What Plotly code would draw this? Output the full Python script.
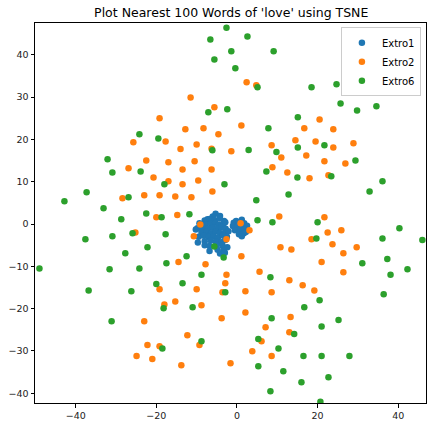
import plotly.graph_objects as go

# Extro1 (blue cluster)
extro1_x = [-5.3, -6.0, -4.2, -7.3, -8.0, -6.8, -5.5, -4.3, -3.2, -9.3, -7.8, -6.5, -5.4, -4.5, -3.4, -2.9,
            -9.8, -8.5, -7.2, -6.0, -5.0, -3.9, -2.8, -10.2, -8.8, -7.6, -6.4, -5.3, -4.2, -3.0, -2.1,
            -9.5, -8.2, -7.0, -5.8, -4.7, -3.5, -2.5, -9.7, -8.0, -6.5, -5.2, -3.8, -2.9, -8.0, -6.8,
            -5.0, -3.6, -2.4, -6.8, -4.8, -3.3, -4.2, -3.0,
            -0.2, 1.2, -0.8, 0.5, 1.8, -1.0, 0.2, 1.5, 2.5, -0.5, 0.8, 2.0, 0.5, 1.7, 1.2, 2.2]
extro1_y = [2.4, 1.8, 1.9, 1.1, 0.8, 1.2, 0.9, 1.3, 0.7, 0.2, -0.1, 0.1, 0.3, -0.2, 0.0, 0.4,
            -1.0, -0.8, -1.1, -0.9, -1.2, -0.7, -1.1, -1.3, -2.0, -1.9, -2.2, -1.8, -2.1, -2.0, -1.7,
            -3.0, -2.8, -3.1, -2.9, -3.2, -2.7, -3.0, -4.4, -4.1, -3.9, -4.2, -4.3, -3.8, -5.0, -5.2,
            -4.9, -5.1, -5.5, -6.4, -6.1, -6.2, -7.0, -6.8,
            0.7, 1.0, 0.3, 0.4, 0.2, -0.5, -0.6, -0.4, -0.4, -1.5, -1.4, -1.3, -2.4, -2.2, -2.9, -1.9]

# Extro2 (orange)
extro2_x = [-19.2, -25.7, -17.7, 2.4, 4.8, -11.5, -5.6, 1.1, -12.8, -8.3, -4.6, -14.0, -10.0, -6.3, -1.4,
            8.6, 14.5, 20.5, 16.7, 23.9, 19.5, 23.9, 28.9, 17.2, 21.7, 26.9, 18.0, 22.7, 21.7, 25.9,
            22.5, 18.5, 23.7, 29.7, 26.4, 21.0, 26.4, 16.3, 19.2, -22.5, -17.0, -26.9, -20.7, -17.0,
            -28.4, -23.0, -19.2, -20.0, -25.2, -19.2, -18.0, -23.0, -22.2, -19.2, -24.9, -21.0, -2.6,
            5.6, 13.0, -10.0, -2.9, -3.6, 2.1, 8.6, -15.3, -8.8, -3.8, 2.1, 13.3, 7.1, 13.0, -12.3,
            -9.3, 6.1, 3.8, 8.6, -13.8, -1.6, 11.0, -10.5, -13.5, -6.3, 8.8, 12.5, -13.5, -9.6, -6.1,
            -15.3, -11.3, -14.8, 10.5, -9.1, -10.7, 0.9, 3.1, -2.6, 1.1, 10.8, 13.5, -14.5, -7.8]
extro2_y = [25.0, 19.3, 19.5, 33.5, 32.8, 29.9, 27.6, 23.3, 22.4, 22.6, 21.2, 17.7, 18.8, 17.8, 17.2,
            18.6, 19.8, 24.7, 22.6, 22.4, 19.5, 18.1, 19.1, 16.2, 14.8, 14.3, 10.8, 11.5, 1.6, -1.5,
            -2.0, -3.6, -4.8, -5.5, -6.9, -9.0, -11.4, -14.5, -15.7, 15.0, 14.6, 13.2, 11.0, 10.1,
            6.1, 6.8, 6.8, 1.6, -2.0, -15.4, -19.0, -23.0, -28.6, -28.9, -31.2, -31.9, -12.0,
            -11.3, -13.3, -15.4, -14.0, -16.1, -15.9, -16.1, -18.3, -19.2, -22.3, -20.9, -22.0, -24.4, -25.6, -26.3,
            -28.6, -27.7, -30.1, -31.2, -33.4, -32.9, 15.7, 14.8, 12.9, 12.9, 13.4, 12.2, 9.4, 10.3, 7.7,
            6.5, 6.3, 2.1, 1.8, -0.1, -2.9, 0.2, -1.5, -3.6, -7.6, -5.5, -6.0, -9.0, -9.5]

# Extro6 (green)
extro6_x = [-2.6, -6.6, 2.6, -1.4, 9.1, -5.6, -0.4, 5.1, -7.1, -2.4, 15.1, 7.8, -6.1, 2.9, 15.1, 9.8,
            -24.2, -19.5, 18.5, 24.7, 25.7, 29.8, 34.6, 21.7, 29.4, 15.0, 23.4, 36.1, 32.9, 20.0, 40.3,
            19.7, 36.1, 46.0, 31.1, 37.3, 42.3, 38.1, 20.5, 16.7, 36.4, 25.2, 21.0, 14.2, 16.5, 21.0,
            27.9, 16.0, 22.7, 20.7, -32.1, -30.9, -23.9, -18.0, -37.3, -42.8, -26.9, -33.1, -28.7,
            -22.5, -18.7, -25.9, -37.6, -30.9, -17.7, -22.2, -27.7, -17.5, -49.0, -31.6, -24.2, -36.8,
            -26.2, -20.0, -18.2, -31.1, -18.5, -8.8, 8.3, -13.5, -2.9, -11.0, 8.6, -8.8, 5.3, 10.3,
            5.3, 11.5, 8.3, 7.3, -3.1, 4.8, 12.8, -11.8, 5.1, 8.8, -5.6, -3.3, -12.5]
extro6_y = [46.4, 43.6, 44.3, 40.8, 40.8, 38.9, 36.8, 32.3, 26.4, 27.1, 25.2, 22.6, 17.4, 17.5, 18.1, 17.0,
            21.2, 20.2, 32.3, 33.0, 28.5, 26.8, 27.8, 18.6, 15.0, 11.0, 11.3, 10.1, 7.7, 0.4, -1.0,
            -3.4, -3.4, -3.8, -9.3, -8.3, -10.7, -12.0, -18.0, -19.7, -16.6, -22.7, -24.2, -26.0, -31.2, -31.2,
            -31.2, -37.4, -36.2, -42.0, 15.3, 12.2, 12.4, 9.4, 7.5, 5.4, 6.3, 3.7, 1.1,
            2.5, 1.6, -2.2, -3.6, -2.9, -2.4, -5.5, -6.9, -9.3, -10.5, -10.7, -10.5, -15.7,
            -15.9, -14.2, -19.9, -23.0, -29.4, -12.0, -12.6, -14.0, -16.1, -19.7, -22.3, -27.7, -27.2, -29.4,
            -33.6, -34.8, -39.5, 12.4, 9.4, 5.6, 7.0, 2.3, 0.9, 0.4, -5.3, -7.9, -7.6]

x_range = [-50.1, 46.9]
y_range = [-42.3, 47.5]
x_ticks = [-40, -20, 0, 20, 40]
y_ticks = [-40, -30, -20, -10, 0, 10, 20, 30, 40]

series = [
    ("Extro1", extro1_x, extro1_y, "#1f77b4"),
    ("Extro2", extro2_x, extro2_y, "#ff7f0e"),
    ("Extro6", extro6_x, extro6_y, "#2ca02c"),
]


def fmt(t):
    return "\u2212" + str(-t) if t < 0 else str(t)


fig = go.Figure()
for name, xs, ys, col in series:
    fig.add_trace(go.Scatter(x=xs, y=ys, mode="markers", name=name,
                             marker=dict(color=col, size=6.5, line=dict(width=0))))

axis_common = dict(showgrid=False, zeroline=False, showline=True, linecolor="black", linewidth=1,
                   mirror=True, ticks="outside", ticklen=3.5, tickwidth=1, tickcolor="black",
                   automargin=False,
                   tickfont=dict(family="DejaVu Sans", size=9.5, color="#222222"))

fig.update_layout(
    width=436, height=427,
    margin=dict(l=35, r=10, t=23, b=24, autoexpand=False),
    paper_bgcolor="white", plot_bgcolor="white",
    title=dict(text="Plot Nearest 100 Words of 'love' using TSNE", x=0.5304, xanchor="center",
               yref="container", y=0.971, yanchor="middle",
               font=dict(family="DejaVu Sans", size=12.5, color="black")),
    xaxis=dict(range=x_range, tickvals=x_ticks, ticktext=[fmt(t) for t in x_ticks], **axis_common),
    yaxis=dict(range=y_range, tickvals=y_ticks, ticktext=[fmt(t) for t in y_ticks], **axis_common),
    legend=dict(x=0.987, xanchor="right", y=0.989, yanchor="top", bgcolor="rgba(255,255,255,0.8)",
                bordercolor="#cccccc", borderwidth=1, font=dict(family="DejaVu Sans", size=10, color="black"),
                tracegroupgap=0, itemsizing="trace"),
    showlegend=True,
)

fig.write_html("out.html", config={"displayModeBar": False},
               post_script="document.body.style.margin='0';document.body.style.padding='0';")
